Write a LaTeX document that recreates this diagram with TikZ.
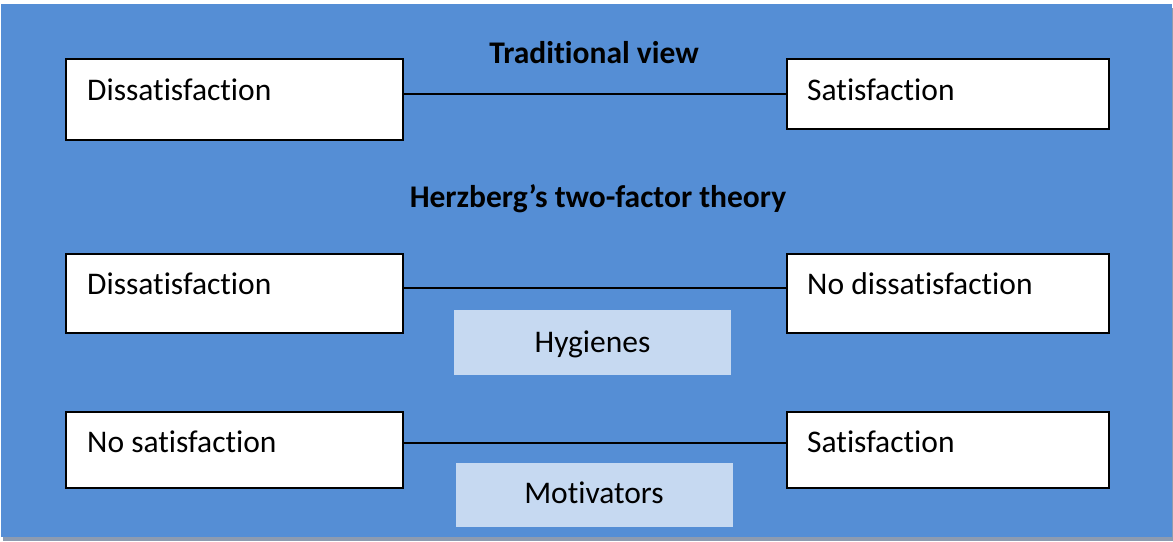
\documentclass[tikz,border=0pt]{standalone}
\usepackage{fontspec}
\setmainfont{Carlito}[Ligatures={NoCommon}]
\definecolor{panelblue}{RGB}{85,142,213}
\definecolor{lightblue}{RGB}{198,217,241}
\definecolor{shadowgrey}{RGB}{141,155,176}
\tikzset{
  whitebox/.style={draw=black, line width=2pt, fill=white, anchor=north west,
    inner sep=0pt, minimum width=#1},
  whitebox/.default=337,
  factorbox/.style={fill=lightblue, anchor=north west, inner sep=0pt},
  boxtext/.style={anchor=base west, inner sep=0pt,
    font=\fontsize{31.5}{38}\selectfont},
  centertext/.style={anchor=base, inner sep=0pt,
    font=\fontsize{31.5}{38}\selectfont},
  heading/.style={anchor=base, inner sep=0pt,
    font=\fontsize{31.5}{38}\selectfont\bfseries},
  conn/.style={draw=black, line width=1.8pt},
}
\begin{document}
\begin{tikzpicture}[x=1pt,y=-1pt]
\useasboundingbox (0,0) rectangle (1173,541);
% panel with its drop shadow
\fill[shadowgrey] (3,8) rectangle (1173,541);
\fill[panelblue] (1,4) rectangle (1172,537);

% traditional view
\node[heading] (trad) at (594,63) {Traditional view};
\node[whitebox, minimum height=81] (d1) at (65,58) {};
\node[whitebox=322, minimum height=70] (s1) at (786,58) {};
\node[boxtext] (d1t) at (87,100) {Dissatisfaction};
\node[boxtext] (s1t) at (807,100) {Satisfaction};
\draw[conn] (d1.east |- s1.west) -- (s1.west);

% two-factor theory
\node[heading] (herz) at (598,207) {Herzberg’s two-factor theory};

\node[whitebox, minimum height=79] (d2) at (65,253) {};
\node[whitebox=322, minimum height=79] (n2) at (786,253) {};
\node[boxtext] (d2t) at (87,294) {Dissatisfaction};
\node[boxtext] (n2t) at (807,294) {No dissatisfaction};
\draw[conn] (d2.east |- 0,288) -- (n2.west |- 0,288);
\node[factorbox, minimum width=277, minimum height=65] (hyg) at (454,310) {};
\node[centertext] (hygt) at (592.5,352) {Hygienes};

\node[whitebox, minimum height=76] (n3) at (65,411) {};
\node[whitebox=322, minimum height=76] (s3) at (786,411) {};
\node[boxtext] (n3t) at (87,452) {No satisfaction};
\node[boxtext] (s3t) at (807,452) {Satisfaction};
\draw[conn] (n3.east |- 0,443) -- (s3.west |- 0,443);
\node[factorbox, minimum width=277, minimum height=64] (mot) at (456,463) {};
\node[centertext] (mott) at (594,503) {Motivators};
\end{tikzpicture}
\end{document}
